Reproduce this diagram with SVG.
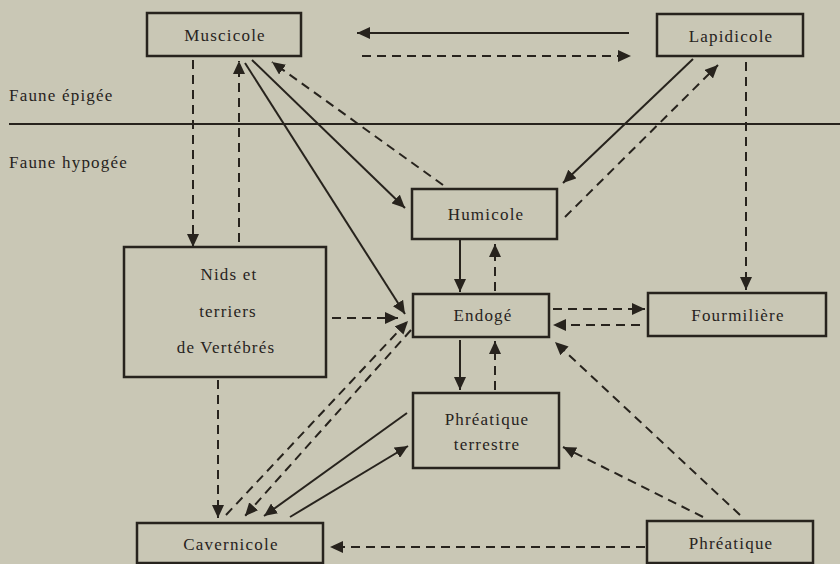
<svg xmlns="http://www.w3.org/2000/svg" width="840" height="564" viewBox="0 0 840 564">
<style>
.bg{fill:#c9c7b5}
.box{fill:none;stroke:#27231d;stroke-width:2.5}
.t{font-family:"Liberation Serif","DejaVu Serif",serif;font-size:17px;letter-spacing:1.2px;fill:#27231d;text-anchor:middle}
.lab{font-family:"Liberation Serif","DejaVu Serif",serif;font-size:17px;letter-spacing:1.2px;fill:#27231d}
.s{stroke:#27231d;stroke-width:2;fill:none;marker-end:url(#ah)}
.d{stroke:#27231d;stroke-width:2;fill:none;stroke-dasharray:9 6;marker-end:url(#ah)}
.dn{stroke:#27231d;stroke-width:2;fill:none;stroke-dasharray:9 6}
</style>
<defs>
<marker id="ah" markerUnits="userSpaceOnUse" markerWidth="14" markerHeight="12" refX="13" refY="6" orient="auto" viewBox="0 0 14 12">
<path d="M0,0 L13,6 L0,12 z" fill="#27231d"/>
</marker>
</defs>
<rect class="bg" x="0" y="0" width="840" height="564"/>
<g id="divider">
<line x1="9" y1="124" x2="840" y2="124" stroke="#27231d" stroke-width="2"/>
<text class="lab" x="9" y="101">Faune épigée</text>
<text class="lab" x="9" y="168">Faune hypogée</text>
</g>
<g id="connectors">
<line class="s" x1="629" y1="33" x2="357" y2="33"/>
<line class="d" x1="362" y1="56" x2="631" y2="56"/>
<line class="d" x1="193" y1="60" x2="193" y2="247"/>
<line class="d" x1="239" y1="242" x2="239" y2="61"/>
<line class="s" x1="245" y1="63" x2="405" y2="314"/>
<line class="s" x1="252" y1="60" x2="405" y2="208"/>
<line class="d" x1="443" y1="185" x2="272" y2="62"/>
<line class="s" x1="693" y1="59" x2="563" y2="183"/>
<line class="d" x1="565" y1="217" x2="718" y2="65"/>
<line class="d" x1="746" y1="62" x2="746" y2="290"/>
<line class="s" x1="460" y1="240" x2="460" y2="292"/>
<line class="d" x1="495" y1="291" x2="495" y2="244"/>
<line class="d" x1="332" y1="318" x2="398" y2="318"/>
<line class="d" x1="553" y1="309" x2="645" y2="309"/>
<line class="d" x1="640" y1="325" x2="553" y2="325"/>
<line class="s" x1="460" y1="340" x2="460" y2="390"/>
<line class="d" x1="495" y1="390" x2="495" y2="341"/>
<line class="d" x1="740" y1="515" x2="555" y2="342"/>
<line class="d" x1="703" y1="517" x2="563" y2="447"/>
<line class="d" x1="645" y1="547" x2="330" y2="547"/>
<line class="d" x1="226" y1="515" x2="408" y2="321"/>
<line class="d" x1="411" y1="330" x2="245" y2="516"/>
<line class="s" x1="407" y1="413" x2="264" y2="516"/>
<line class="s" x1="290" y1="517" x2="408" y2="446"/>
<line class="d" x1="218" y1="380" x2="218" y2="518"/>
</g>
<g id="muscicole">
<rect class="box" x="147" y="13" width="154" height="43"/>
<text class="t" x="225" y="41">Muscicole</text>
</g>
<g id="lapidicole">
<rect class="box" x="657" y="14" width="146" height="42"/>
<text class="t" x="731" y="42">Lapidicole</text>
</g>
<g id="humicole">
<rect class="box" x="412" y="189" width="145" height="50"/>
<text class="t" x="486" y="220">Humicole</text>
</g>
<g id="nids">
<rect class="box" x="124" y="247" width="202" height="130"/>
<text class="t" x="229" y="280">Nids  et</text>
<text class="t" x="228" y="317">terriers</text>
<text class="t" x="226" y="353">de  Vertébrés</text>
</g>
<g id="endoge">
<rect class="box" x="413" y="294" width="136" height="43"/>
<text class="t" x="483" y="321">Endogé</text>
</g>
<g id="fourmiliere">
<rect class="box" x="648" y="293" width="178" height="43"/>
<text class="t" x="738" y="321">Fourmilière</text>
</g>
<g id="phreatique-terrestre">
<rect class="box" x="413" y="393" width="146" height="75"/>
<text class="t" x="487" y="425">Phréatique</text>
<text class="t" x="487" y="450">terrestre</text>
</g>
<g id="cavernicole">
<rect class="box" x="137" y="523" width="186" height="40"/>
<text class="t" x="231" y="550">Cavernicole</text>
</g>
<g id="phreatique">
<rect class="box" x="647" y="521" width="166" height="42"/>
<text class="t" x="731" y="549">Phréatique</text>
</g>
</svg>
